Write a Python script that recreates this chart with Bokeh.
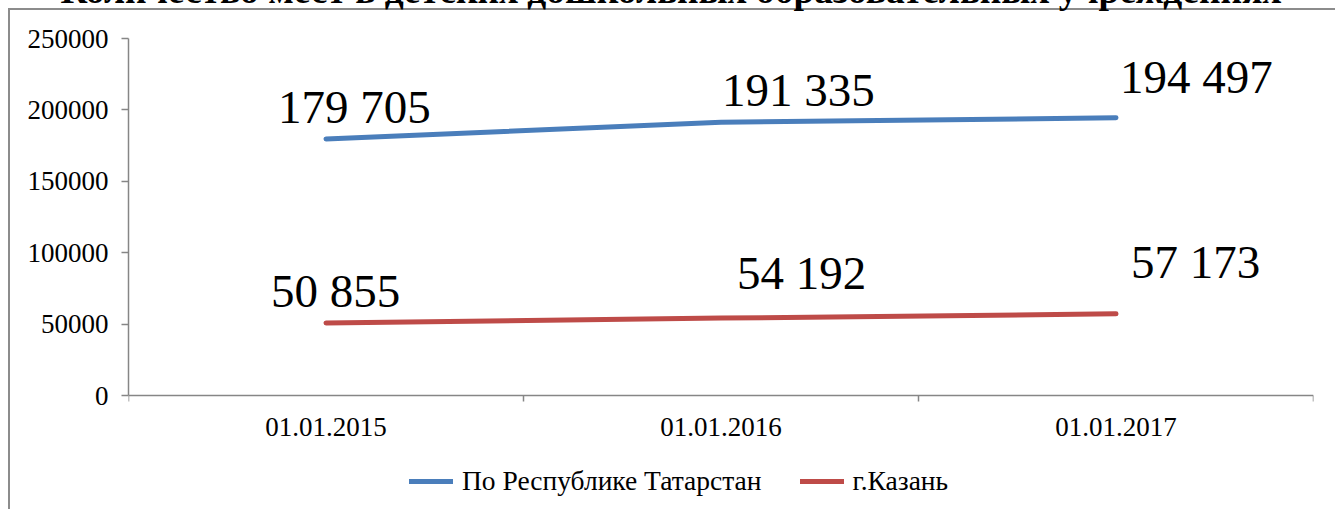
from bokeh.plotting import figure
from bokeh.models import (ColumnDataSource, Range1d, FixedTicker, NumeralTickFormatter,
                          Legend, LegendItem, Title)
from bokeh.core.properties import value
from bokeh.embed import file_html
from bokeh.resources import INLINE

# ---- data ----
title_text = "Количество мест в детских дошкольных образовательных учреждениях"
dates = ["01.01.2015", "01.01.2016", "01.01.2017"]
rt_name = "По Республике Татарстан"
kazan_name = "г.Казань"
rt_values = [179705, 191335, 194497]
kazan_values = [50855, 54192, 57173]
rt_labels = ["179 705", "191 335", "194 497"]
kazan_labels = ["50 855", "54 192", "57 173"]
y_ticks = [0, 50000, 100000, 150000, 200000, 250000]

# ---- styling / layout ----
FONT = "Liberation Serif"
BLUE = "#4A7EBB"
RED = "#BE4B48"
AXIS = "#868686"
FRAME = "#8c8c8c"
SHIFT = 72          # canvas shifted up so that the title is cut at the top
PAGE_H = 509
PLOT_TOP = 38       # pixel row of the top tick
ZERO_ROW = 395      # pixel row of the value 0

# label nudges (screen px) -- styling only
rt_dx = [-48, 1, 4]
rt_dy = [32, 32, 41]
kz_dx = [-55, 16, 15]
kz_dy = [32, 45, 52]

xs = [i + 0.5 for i in range(len(dates))]
y_min = -y_ticks[-1] * (PAGE_H - ZERO_ROW) / (ZERO_ROW - PLOT_TOP)

p = figure(width=1335, height=PAGE_H + SHIFT, output_backend="svg", toolbar_location=None,
           x_range=Range1d(0, len(dates)), y_range=Range1d(y_min, y_ticks[-1]),
           min_border_left=128, min_border_right=22, min_border_top=PLOT_TOP + SHIFT,
           min_border_bottom=0)
p.outline_line_color = None
p.xgrid.visible = False
p.ygrid.visible = False
p.background_fill_color = "white"
p.border_fill_alpha = 0
p.styles = {
    "margin-top": f"-{SHIFT}px",
    "background-color": "white",
    "background-image": f"linear-gradient({FRAME}, {FRAME}), linear-gradient({FRAME}, {FRAME})",
    "background-repeat": "no-repeat",
    "background-position": f"8px {8 + SHIFT}px, 8px {8 + SHIFT}px",
    "background-size": "2px 100%, 100% 2px",
}

# title (cut off at the top as in the source)
p.add_layout(Title(text=title_text, align="left", offset=-68, standoff=56,
                   text_font=FONT, text_font_size="37.5px", text_font_style="bold",
                   text_color="black"), "above")

# axes
yax = p.yaxis[0]
yax.bounds = (y_ticks[0], y_ticks[-1])
yax.ticker = FixedTicker(ticks=y_ticks, minor_ticks=[])
yax.formatter = NumeralTickFormatter(format="0")
yax.axis_line_color = AXIS
yax.axis_line_width = 1.5
yax.major_tick_line_color = AXIS
yax.major_tick_line_width = 1.5
yax.major_tick_out = 7
yax.major_tick_in = 0
yax.minor_tick_line_color = None
yax.major_label_standoff = 13
yax.major_label_text_font = FONT
yax.major_label_text_font_size = "27px"
yax.major_label_text_color = "black"

xax = p.xaxis[0]
xax.fixed_location = 0
xax.ticker = FixedTicker(ticks=xs, minor_ticks=list(range(len(dates) + 1)))
xax.major_label_overrides = {x: d for x, d in zip(xs, dates)}
xax.axis_line_color = AXIS
xax.axis_line_width = 1.5
xax.major_tick_out = 0
xax.major_tick_in = 0
xax.minor_tick_line_color = AXIS
xax.minor_tick_line_width = 1.5
xax.minor_tick_out = 6
xax.minor_tick_in = 0
xax.major_label_standoff = 16
xax.major_label_text_font = FONT
xax.major_label_text_font_size = "27px"
xax.major_label_text_color = "black"

# lines
r_rt = p.line(xs, rt_values, line_color=BLUE, line_width=5, line_cap="round")
r_kz = p.line(xs, kazan_values, line_color=RED, line_width=5, line_cap="round")

# data labels
src_rt = ColumnDataSource(dict(x=xs, y=rt_values, t=rt_labels,
                               dx=rt_dx, dy=[-d for d in rt_dy]))
src_kz = ColumnDataSource(dict(x=xs, y=kazan_values, t=kazan_labels,
                               dx=kz_dx, dy=[-d for d in kz_dy]))
for src in (src_rt, src_kz):
    p.text(x="x", y="y", text="t", x_offset="dx", y_offset="dy", source=src,
           text_font=value(FONT), text_font_size="47px", text_color="black",
           text_align="left", text_baseline="alphabetic")

# legend
legend = Legend(items=[LegendItem(label=rt_name, renderers=[r_rt]),
                       LegendItem(label=kazan_name, renderers=[r_kz])],
                location=(281, 12), orientation="horizontal",
                label_text_font=FONT, label_text_font_size="27.5px",
                label_text_color="black", glyph_width=44, glyph_height=30,
                label_height=30, label_standoff=9, spacing=38, padding=0,
                margin=0, border_line_alpha=0, background_fill_alpha=0)
p.add_layout(legend, "center")

open("out.html", "w").write(file_html(p, INLINE))
